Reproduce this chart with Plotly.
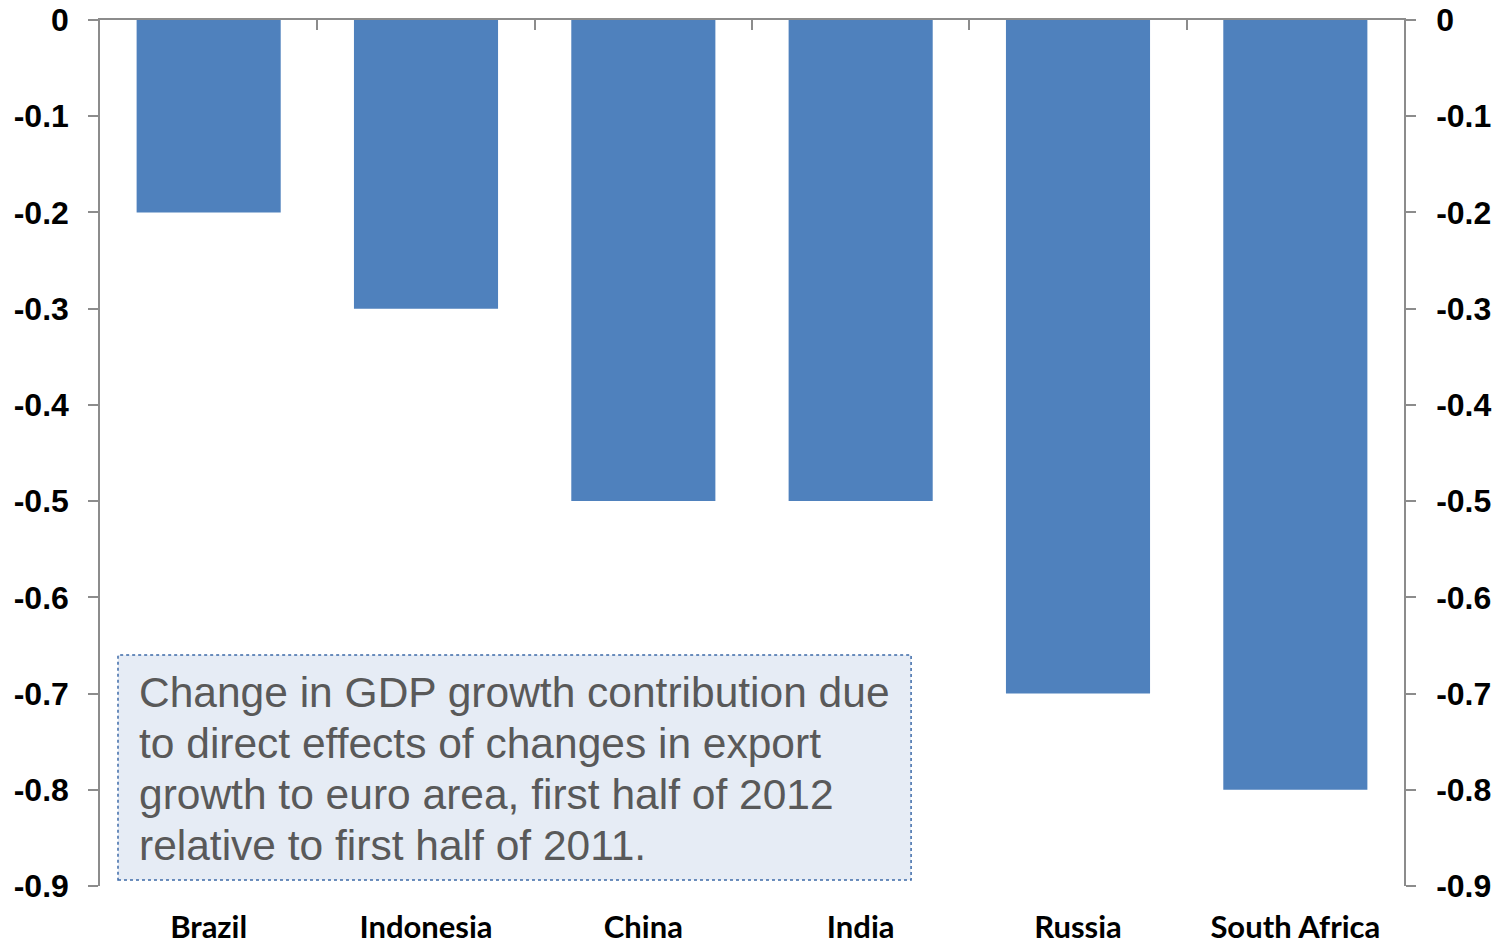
import plotly.graph_objects as go

countries = ["Brazil", "Indonesia", "China", "India", "Russia", "South Africa"]
values = [-0.2, -0.3, -0.5, -0.5, -0.7, -0.8]
y_ticks = [0, -0.1, -0.2, -0.3, -0.4, -0.5, -0.6, -0.7, -0.8, -0.9]
y_tick_labels = ["0", "-0.1", "-0.2", "-0.3", "-0.4", "-0.5", "-0.6", "-0.7", "-0.8", "-0.9"]
note_lines = ["Change in GDP growth contribution due",
              "to direct effects of changes in export",
              "growth to euro area, first half of 2012",
              "relative to first half of 2011."]

axis_grey = "#8c8c8c"

fig = go.Figure()
fig.add_trace(go.Bar(x=list(range(len(countries))), y=values, marker=dict(color="#4f81bd", line=dict(width=0)),
                     showlegend=False, hoverinfo="skip"))
fig.add_trace(go.Scatter(x=[0], y=[0], yaxis="y2", xaxis="x2", mode="markers",
                         marker=dict(opacity=0), showlegend=False, hoverinfo="skip"))

fig.update_layout(
    width=1506, height=947,
    margin=dict(l=100, r=102, t=20, b=61, autoexpand=False),
    paper_bgcolor="white", plot_bgcolor="white",
    bargap=0.337,
    xaxis=dict(range=[-0.5, 5.5], tickvals=list(range(len(countries))), ticktext=countries,
               showline=False, showgrid=False, zeroline=False, ticks="", automargin=False,
               tickfont=dict(family="Lato", size=31, color="black", weight="bold"),
               ticklabelstandoff=20),
    xaxis2=dict(range=[-0.5, 5.5], overlaying="x", side="top", anchor="y", automargin=False,
                tickvals=[i - 0.5 for i in range(len(countries) + 1)], showticklabels=False,
                showline=True, linecolor=axis_grey, linewidth=2, ticks="inside", ticklen=10,
                tickcolor=axis_grey, tickwidth=1.5, showgrid=False, zeroline=False),
    yaxis=dict(range=[-0.9, 0], tickvals=y_ticks, ticktext=y_tick_labels, automargin=False,
               showline=True, linecolor=axis_grey, linewidth=1.5, ticks="outside", ticklen=10,
               tickcolor=axis_grey, tickwidth=1.5, showgrid=False, zeroline=False,
               tickfont=dict(family="Liberation Sans", size=32, color="black", weight="bold"),
               ticklabelstandoff=13),
    yaxis2=dict(range=[-0.9, 0], tickvals=y_ticks, ticktext=y_tick_labels, overlaying="y", side="right",
                anchor="x2", automargin=False,
                showline=True, linecolor=axis_grey, linewidth=1.5, ticks="outside", ticklen=10,
                tickcolor=axis_grey, tickwidth=1.5, showgrid=False, zeroline=False,
                tickfont=dict(family="Liberation Sans", size=32, color="black", weight="bold"),
                ticklabelstandoff=14),
)

fig.add_shape(type="rect", xref="paper", yref="paper", x0=0.0138, x1=0.622, y0=0.0069, y1=0.2667,
              fillcolor="#e6ecf5", line=dict(color="#3d6aa8", width=1.5, dash="dot"), layer="above")
line_y_px = [692, 743, 794, 845]
for line, ypx in zip(note_lines, line_y_px):
    fig.add_annotation(xref="paper", yref="paper", x=0.0284, y=(886 - ypx) / 866,
                       xanchor="left", yanchor="middle",
                       text=line, showarrow=False, align="left",
                       font=dict(family="Liberation Sans", size=42.5, color="#595959"))

fig.write_html("out.html")
